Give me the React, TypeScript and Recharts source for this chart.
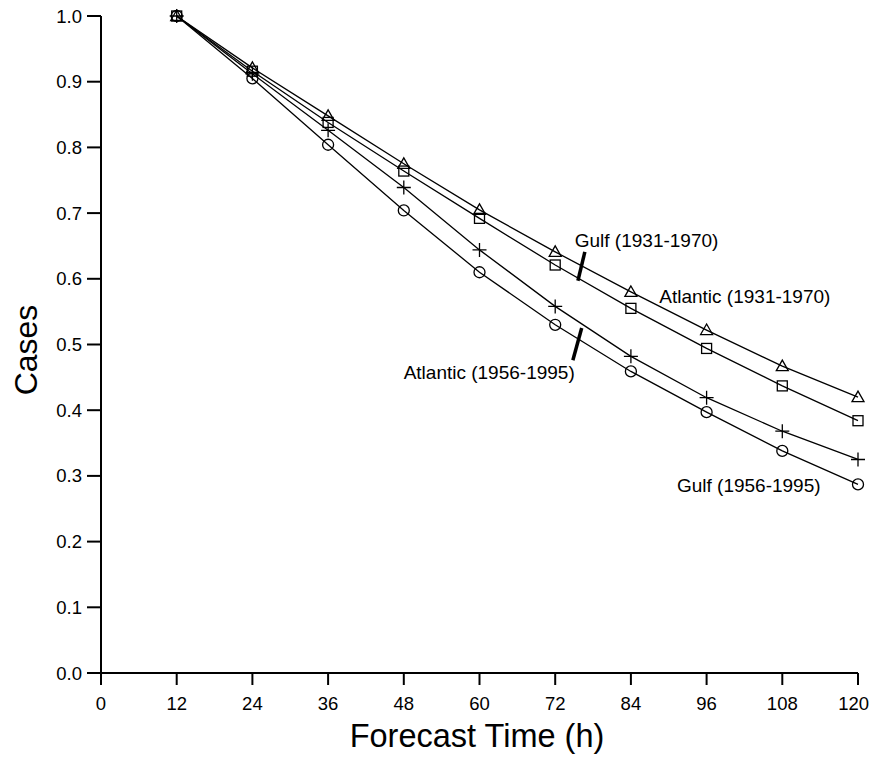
import React from 'react';
import { LineChart, Line, XAxis, YAxis, ReferenceLine, ReferenceDot } from 'recharts';

const hours = [12, 24, 36, 48, 60, 72, 84, 96, 108, 120];
const atlantic1931 = [1.0, 0.921, 0.848, 0.775, 0.705, 0.641, 0.58, 0.522, 0.467, 0.42];
const gulf1931 = [1.0, 0.916, 0.838, 0.764, 0.692, 0.621, 0.555, 0.494, 0.437, 0.384];
const atlantic1956 = [1.0, 0.912, 0.826, 0.739, 0.644, 0.558, 0.482, 0.419, 0.368, 0.325];
const gulf1956 = [1.0, 0.905, 0.804, 0.704, 0.61, 0.53, 0.459, 0.397, 0.338, 0.287];

const xTicks = [0, 12, 24, 36, 48, 60, 72, 84, 96, 108, 120];
const yTicks = [0, 0.1, 0.2, 0.3, 0.4, 0.5, 0.6, 0.7, 0.8, 0.9, 1.0];

const labelTexts = ['Gulf (1931-1970)', 'Atlantic (1931-1970)', 'Atlantic (1956-1995)', 'Gulf (1956-1995)'];
const labelX = [75.1, 88.5, 75.1, 91.3];
const labelY = [0.659, 0.574, 0.458, 0.286];
const labelAnchor = ['start', 'start', 'end', 'start'];

const leaderFrom = [{ x: 76.7, y: 0.641 }, { x: 76.2, y: 0.525 }];
const leaderTo = [{ x: 75.6, y: 0.597 }, { x: 74.8, y: 0.476 }];

const data = hours.map((h, i) => ({
  h,
  a31: atlantic1931[i],
  g31: gulf1931[i],
  a56: atlantic1956[i],
  g56: gulf1956[i],
}));

const FONT = '"Liberation Sans", Arial, Helvetica, sans-serif';
const SW = 1.3;
const W = 862;
const H = 747;

const triangleDot = (p: any) => {
  const { cx, cy, index } = p;
  return (
    <path
      key={`tri-${index}`}
      d={`M${cx},${cy - 6} L${cx - 6},${cy + 4.5} L${cx + 6},${cy + 4.5} Z`}
      fill="none"
      stroke="#000"
      strokeWidth={SW}
    />
  );
};
const squareDot = (p: any) => {
  const { cx, cy, index } = p;
  return <rect key={`sq-${index}`} x={cx - 5} y={cy - 5} width={10} height={10} fill="none" stroke="#000" strokeWidth={SW} />;
};
const plusDot = (p: any) => {
  const { cx, cy, index } = p;
  return (
    <path key={`pl-${index}`} d={`M${cx - 7},${cy} L${cx + 7},${cy} M${cx},${cy - 7} L${cx},${cy + 7}`} stroke="#000" strokeWidth={SW} fill="none" />
  );
};
const circleDot = (p: any) => {
  const { cx, cy, index } = p;
  return <circle key={`ci-${index}`} cx={cx} cy={cy} r={5.5} fill="none" stroke="#000" strokeWidth={SW} />;
};

const xTick = (p: any) => {
  const v = p.payload.value;
  const last = v === xTicks[xTicks.length - 1];
  return (
    <text
      x={last ? W - 1 : p.x}
      y={p.y}
      dy="0.71em"
      textAnchor={last ? 'end' : 'middle'}
      fontSize={18.5}
      fontFamily={FONT}
      fill="#000"
    >
      {v}
    </text>
  );
};

export default function App() {
  return (
    <div style={{ width: W, height: H, background: '#fff' }}>
      <LineChart width={W} height={H} data={data} margin={{ top: 8, right: 12, bottom: 0, left: 33 }}>
        <XAxis
          dataKey="h"
          type="number"
          domain={[0, 120]}
          ticks={xTicks}
          interval={0}
          height={82}
          tickSize={12}
          tickMargin={12}
          axisLine={{ stroke: '#000', strokeWidth: 2 }}
          tickLine={{ stroke: '#000', strokeWidth: 2 }}
          tick={xTick}
          label={() => (
            <text x={469} y={739} textAnchor="middle" fontSize={32.5} fontFamily={FONT} fill="#000">
              Forecast Time (h)
            </text>
          )}
        />
        <YAxis
          type="number"
          domain={[0, 1]}
          ticks={yTicks}
          interval={0}
          width={60}
          tickSize={14}
          tickMargin={5}
          tickFormatter={(v: number) => v.toFixed(1)}
          axisLine={{ stroke: '#000', strokeWidth: 2 }}
          tickLine={{ stroke: '#000', strokeWidth: 2 }}
          tick={{ fill: '#000', fontSize: 18.5, fontFamily: FONT }}
          label={() => (
            <text
              x={17}
              y={342}
              transform="rotate(-90 17 342)"
              textAnchor="middle"
              dy="0.36em"
              fontSize={32}
              fontFamily={FONT}
              fill="#000"
            >
              Cases
            </text>
          )}
        />
        <Line dataKey="g56" stroke="#000" strokeWidth={SW} dot={circleDot} isAnimationActive={false} />
        <Line dataKey="a56" stroke="#000" strokeWidth={SW} dot={plusDot} isAnimationActive={false} />
        <Line dataKey="g31" stroke="#000" strokeWidth={SW} dot={squareDot} isAnimationActive={false} />
        <Line dataKey="a31" stroke="#000" strokeWidth={SW} dot={triangleDot} isAnimationActive={false} />
        {leaderFrom.map((f, i) => (
          <ReferenceLine key={`ld-${i}`} segment={[f, leaderTo[i]]} stroke="#000" strokeWidth={3.5} />
        ))}
        {labelTexts.map((t, i) => (
          <ReferenceDot
            key={`lb-${i}`}
            x={labelX[i]}
            y={labelY[i]}
            r={0}
            shape={(p: any) => (
              <text
                x={p.cx}
                y={p.cy}
                dy="0.36em"
                textAnchor={labelAnchor[i] as any}
                fontSize={19}
                fontFamily={FONT}
                fill="#000"
              >
                {t}
              </text>
            )}
          />
        ))}
      </LineChart>
    </div>
  );
}
